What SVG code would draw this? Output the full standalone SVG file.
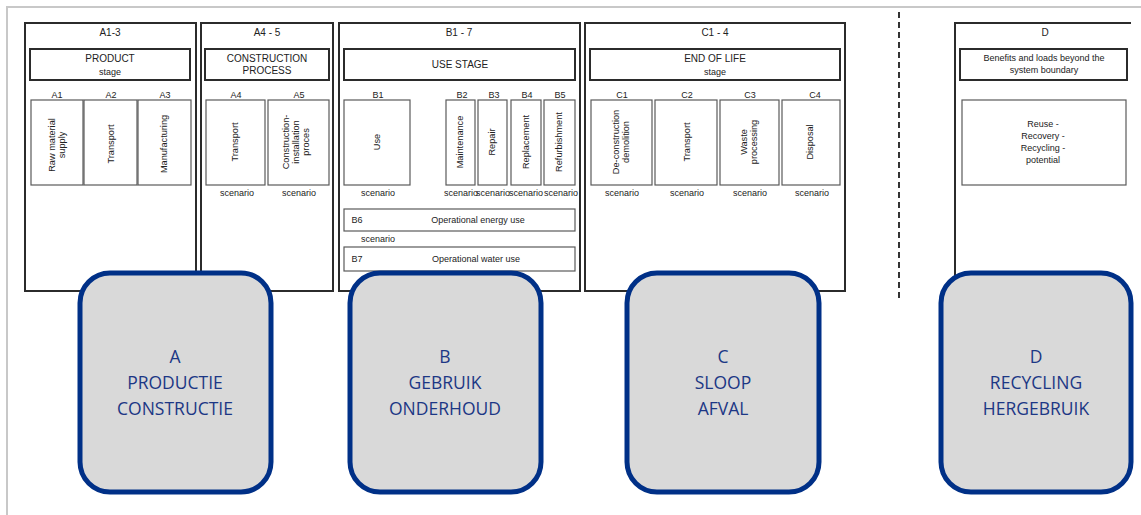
<svg xmlns="http://www.w3.org/2000/svg" width="1141" height="515" viewBox="0 0 1141 515">
  <style>
    .stage { fill: #fff; stroke: #2b2b2b; stroke-width: 2; }
    .title { fill: #fff; stroke: #2b2b2b; stroke-width: 2; }
    .mod { fill: #fff; stroke: #5a5a5a; stroke-width: 1.2; }
    .t { font-family: "Liberation Sans", Arial, sans-serif; fill: #222; text-anchor: middle; }
    .h { font-size: 10px; }
    .s { font-size: 9px; }
    .m { font-size: 9.2px; }
    .big { fill: #d9d9d9; stroke: #003087; stroke-width: 5; }
    .bt { font-family: "Open Sans", "Noto Sans", sans-serif; font-size: 17.5px; fill: #1c3785; text-anchor: middle; }
  </style>

  <rect width="1141" height="515" fill="#fff"/>
  <!-- page frame -->
  <path d="M7 515 V7 H1141" fill="none" stroke="#c8c8c8" stroke-width="2"/>

  <!-- A1-3 product stage -->
  <g id="stage-a1-3">
    <rect class="stage" x="25" y="23" width="171" height="268"/>
    <text class="t h" x="110" y="36">A1-3</text>
    <rect class="title" x="30" y="49" width="160" height="31"/>
    <text class="t h" x="110" y="62">PRODUCT</text>
    <text class="t s" x="110" y="75">stage</text>
    <text class="t s" x="57" y="98">A1</text>
    <text class="t s" x="111" y="98">A2</text>
    <text class="t s" x="165" y="98">A3</text>
    <rect class="mod" x="31" y="100" width="52" height="85"/>
    <rect class="mod" x="84" y="100" width="53" height="85"/>
    <rect class="mod" x="138" y="100" width="53" height="85"/>
    <text class="t m" transform="translate(57,145) rotate(-90)"><tspan x="0" y="-2">Raw material</tspan><tspan x="0" y="8">supply</tspan></text>
    <text class="t m" transform="translate(114,144) rotate(-90)">Transport</text>
    <text class="t m" transform="translate(167,144) rotate(-90)">Manufacturing</text>
  </g>

  <!-- A4-5 construction process -->
  <g id="stage-a4-5">
    <rect class="stage" x="201" y="23" width="132" height="268"/>
    <text class="t h" x="267" y="36">A4 - 5</text>
    <rect class="title" x="205" y="49" width="124" height="31"/>
    <text class="t h" x="267" y="62">CONSTRUCTION</text>
    <text class="t h" x="267" y="74">PROCESS</text>
    <text class="t s" x="236" y="98">A4</text>
    <text class="t s" x="299" y="98">A5</text>
    <rect class="mod" x="206" y="100" width="59" height="85"/>
    <rect class="mod" x="268" y="100" width="61" height="85"/>
    <text class="t m" transform="translate(238,142) rotate(-90)">Transport</text>
    <text class="t m" transform="translate(298,142) rotate(-90)"><tspan x="0" y="-9">Construction-</tspan><tspan x="0" y="1">installation</tspan><tspan x="0" y="11">proces</tspan></text>
    <text class="t s" x="237" y="196">scenario</text>
    <text class="t s" x="299" y="196">scenario</text>
  </g>

  <!-- B1-7 use stage -->
  <g id="stage-b1-7">
    <rect class="stage" x="339" y="23" width="241" height="268"/>
    <text class="t h" x="459" y="36">B1 - 7</text>
    <rect class="title" x="344" y="49" width="231" height="31"/>
    <text class="t h" x="460" y="68">USE STAGE</text>
    <text class="t s" x="378" y="98">B1</text>
    <text class="t s" x="462" y="98">B2</text>
    <text class="t s" x="494" y="98">B3</text>
    <text class="t s" x="527" y="98">B4</text>
    <text class="t s" x="560" y="98">B5</text>
    <rect class="mod" x="344" y="100" width="66" height="85"/>
    <rect class="mod" x="446" y="100" width="29" height="85"/>
    <rect class="mod" x="478" y="100" width="29" height="85"/>
    <rect class="mod" x="511" y="100" width="30" height="85"/>
    <rect class="mod" x="544" y="100" width="31" height="85"/>
    <text class="t m" transform="translate(380,142) rotate(-90)">Use</text>
    <text class="t m" transform="translate(463,142) rotate(-90)">Maintenance</text>
    <text class="t m" transform="translate(495,142) rotate(-90)">Repair</text>
    <text class="t m" transform="translate(529,142) rotate(-90)">Replacement</text>
    <text class="t m" transform="translate(562,142) rotate(-90)">Refurbishment</text>
    <text class="t s" x="378" y="196">scenario</text>
    <text class="t s" x="461" y="196">scenario</text>
    <text class="t s" x="493" y="196">scenario</text>
    <text class="t s" x="526" y="196">scenario</text>
    <text class="t s" x="561" y="196">scenario</text>
    <rect class="mod" x="344" y="209" width="231" height="22"/>
    <text class="t s" x="357" y="223">B6</text>
    <text class="t s" x="478" y="223">Operational energy use</text>
    <text class="t s" x="378" y="242">scenario</text>
    <rect class="mod" x="344" y="247" width="231" height="24"/>
    <text class="t s" x="357" y="262">B7</text>
    <text class="t s" x="476" y="262">Operational water use</text>
    <text class="t s" x="378" y="283">scenario</text>
  </g>

  <!-- C1-4 end of life stage -->
  <g id="stage-c1-4">
    <rect class="stage" x="585" y="23" width="260" height="268"/>
    <text class="t h" x="715" y="36">C1 - 4</text>
    <rect class="title" x="590" y="49" width="250" height="31"/>
    <text class="t h" x="715" y="62">END OF LIFE</text>
    <text class="t s" x="715" y="75">stage</text>
    <text class="t s" x="622" y="98">C1</text>
    <text class="t s" x="687" y="98">C2</text>
    <text class="t s" x="750" y="98">C3</text>
    <text class="t s" x="815" y="98">C4</text>
    <rect class="mod" x="591" y="100" width="61" height="85"/>
    <rect class="mod" x="655" y="100" width="62" height="85"/>
    <rect class="mod" x="720" y="100" width="59" height="85"/>
    <rect class="mod" x="782" y="100" width="58" height="85"/>
    <text class="t m" transform="translate(622,142) rotate(-90)"><tspan x="0" y="-3">De-construction</tspan><tspan x="0" y="7">demolition</tspan></text>
    <text class="t m" transform="translate(690,142) rotate(-90)">Transport</text>
    <text class="t m" transform="translate(750,142) rotate(-90)"><tspan x="0" y="-3">Waste</tspan><tspan x="0" y="7">processing</tspan></text>
    <text class="t m" transform="translate(813,142) rotate(-90)">Disposal</text>
    <text class="t s" x="622" y="196">scenario</text>
    <text class="t s" x="687" y="196">scenario</text>
    <text class="t s" x="750" y="196">scenario</text>
    <text class="t s" x="812" y="196">scenario</text>
  </g>

  <!-- system boundary -->
  <line id="boundary" x1="899" y1="12" x2="899" y2="298" stroke="#333" stroke-width="2" stroke-dasharray="6 4"/>

  <!-- D beyond the system boundary -->
  <g id="stage-d">
    <path d="M955 280 V23 H1131" fill="none" stroke="#2b2b2b" stroke-width="2"/>
    <text class="t h" x="1045" y="36">D</text>
    <rect class="title" x="960" y="49" width="167" height="31"/>
    <text class="t s" x="1044" y="61">Benefits and loads beyond the</text>
    <text class="t s" x="1044" y="73">system boundary</text>
    <rect class="mod" x="962" y="100" width="164" height="85"/>
    <text class="t s" x="1043" y="127">Reuse -</text>
    <text class="t s" x="1043" y="139">Recovery -</text>
    <text class="t s" x="1043" y="151">Recycling -</text>
    <text class="t s" x="1043" y="163">potential</text>
  </g>

  <!-- summary blocks -->
  <g id="block-a">
    <rect class="big" x="80" y="273" width="191" height="219" rx="30"/>
    <text class="bt" x="175" y="363">A</text>
    <text class="bt" x="175" y="389">PRODUCTIE</text>
    <text class="bt" x="175" y="415">CONSTRUCTIE</text>
  </g>
  <g id="block-b">
    <rect class="big" x="350" y="273" width="191" height="219" rx="30"/>
    <text class="bt" x="445" y="363">B</text>
    <text class="bt" x="445" y="389">GEBRUIK</text>
    <text class="bt" x="445" y="415">ONDERHOUD</text>
  </g>
  <g id="block-c">
    <rect class="big" x="627" y="273" width="192" height="219" rx="30"/>
    <text class="bt" x="723" y="363">C</text>
    <text class="bt" x="723" y="389">SLOOP</text>
    <text class="bt" x="723" y="415">AFVAL</text>
  </g>
  <g id="block-d">
    <rect class="big" x="941" y="273" width="190" height="219" rx="30"/>
    <text class="bt" x="1036" y="363">D</text>
    <text class="bt" x="1036" y="389">RECYCLING</text>
    <text class="bt" x="1036" y="415">HERGEBRUIK</text>
  </g>
</svg>
